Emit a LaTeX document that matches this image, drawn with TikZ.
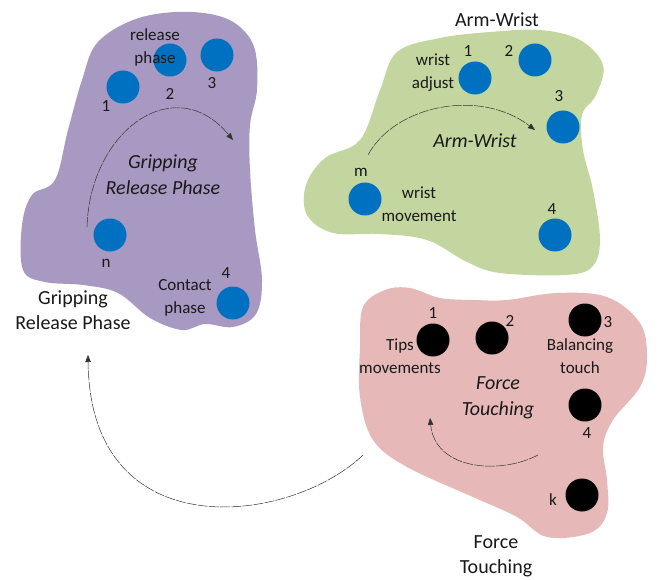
\documentclass[tikz,border=0pt]{standalone}
\usepackage{fontspec}
\setmainfont{Carlito}
\usetikzlibrary{arrows.meta}
\definecolor{blobpurple}{RGB}{168,153,194}
\definecolor{blobgreen}{RGB}{196,214,160}
\definecolor{blobpink}{RGB}{230,185,184}
\definecolor{dotblue}{RGB}{0,112,192}
\definecolor{txt}{RGB}{25,25,25}
\tikzset{
  bluedot/.style={circle, fill=dotblue, minimum size=33pt, inner sep=0pt},
  blackdot/.style={circle, fill=black, minimum size=33pt, inner sep=0pt},
  small/.style={text=txt, inner sep=0pt, align=center, font=\fontsize{17}{23}\selectfont},
  big/.style={text=txt, inner sep=0pt, align=center, font=\fontsize{20}{25}\selectfont},
  bigit/.style={text=txt, inner sep=0pt, align=center, font=\fontsize{20}{26}\selectfont\itshape},
  flow/.style={draw=black!80, line width=0.5pt, dash pattern=on 10pt off 1.2pt, -{Triangle[length=7pt,width=5.5pt]}},
}
\begin{document}
\begin{tikzpicture}[x=1pt,y=-1pt]
\useasboundingbox (0,0) rectangle (658,580);
% blobs
\fill[blobpurple] plot[smooth cycle, tension=0.6] coordinates {
 (97,43) (133,20) (175,12) (215,15) (240,27) (255,50) (257,90) (250,125)
 (250,170) (255,230) (262,280) (256,314) (233,327) (205,324) (182,330)
 (150,318) (118,293) (83,285) (45,282) (23,270) (22,225) (32,195)
 (55,180) (68,130) (82,80)};
\fill[blobgreen] plot[smooth cycle, tension=0.6] coordinates {
 (397,52) (440,38) (490,32) (540,30) (580,40) (603,65) (596,95) (582,115)
 (583,150) (593,190) (600,240) (592,267) (565,275) (500,273) (467,262)
 (427,240) (380,234) (333,233) (307,215) (306,185) (325,158) (360,140) (380,90)};
\fill[blobpink] plot[smooth cycle, tension=0.6] coordinates {
 (363,307) (385,290) (410,288) (440,298) (475,300) (507,300) (557,293) (607,297)
 (640,323) (647,357) (640,387) (613,420) (603,447) (607,480) (607,513)
 (590,533) (547,537) (517,517) (473,497) (407,467) (373,440) (360,397) (360,347)};
% purple dots
\node[bluedot] (p1) at (123,87) {};
\node[bluedot] (p2) at (170,60) {};
\node[bluedot] (p3) at (217,55) {};
\node[bluedot] (pn) at (110,235) {};
\node[bluedot] (p4) at (233,303) {};
% green dots
\node[bluedot] (g1) at (475,78) {};
\node[bluedot] (g2) at (535,60) {};
\node[bluedot] (g3) at (563,127) {};
\node[bluedot] (gm) at (365,199) {};
\node[bluedot] (g4) at (555,235) {};
% pink dots
\node[blackdot] (k1) at (433,340) {};
\node[blackdot] (k2) at (492,338) {};
\node[blackdot] (k3) at (585,320) {};
\node[blackdot] (k4) at (585,405) {};
\node[blackdot] (kk) at (582,495) {};
% purple labels
\node[small] (lrel) at (155,47) {release\\phase};
\node[small] (lp1) at (106,106) {1};
\node[small] (lp2) at (170,94) {2};
\node[small] (lp3) at (212,83) {3};
\node[small] (lpn) at (106,263) {n};
\node[small] (lp4) at (226,273) {4};
\node[small] (lcon) at (185,298) {Contact\\phase};
\node[bigit] (tgrip) at (163,175) {Gripping\\Release Phase};
\node[big] (ogrip) at (73,310) {Gripping\\Release Phase};
% green labels
\node[big] (oarm) at (497,20) {Arm-Wrist};
\node[small] (lg1) at (468,51) {1};
\node[small] (lg2) at (509,51) {2};
\node[small] (lg3) at (559,96) {3};
\node[small] (lwa) at (433,73) {wrist\\adjust};
\node[bigit] (tarm) at (475,141) {Arm-Wrist};
\node[small] (lgm) at (361,172) {m};
\node[small] (lwm) at (419,204) {wrist\\movement};
\node[small] (lg4) at (552,209) {4};
% pink labels
\node[small] (lk1) at (433,313) {1};
\node[small] (lk2) at (510,321) {2};
\node[small] (lk3) at (608,322) {3};
\node[small] (ltips) at (400,356) {Tips\\movements};
\node[small] (lbal) at (580,356) {Balancing\\touch};
\node[bigit] (tforce) at (498,398) {Force\\Touching};
\node[small] (lk4) at (587,433) {4};
\node[small] (lkk) at (553,500) {k};
\node[big] (oforce) at (496,556) {Force\\Touching};
% arrows
\coordinate (pa) at (87,227);
\coordinate (pb) at (233,140);
\draw[flow] (pa) .. controls (90,130) and (175,70) .. (pb);
\coordinate (ga) at (368,155);
\coordinate (gb) at (535,130);
\draw[flow] (ga) .. controls (395,105) and (480,88) .. (gb);
\coordinate (ka) at (538,455);
\coordinate (kb) at (430,418);
\draw[flow] (ka) .. controls (500,475) and (435,470) .. (kb);
\coordinate (ba) at (363,455);
\coordinate (bb) at (88,355);
\draw[flow] (ba) .. controls (290,525) and (90,550) .. (bb);
\end{tikzpicture}
\end{document}
